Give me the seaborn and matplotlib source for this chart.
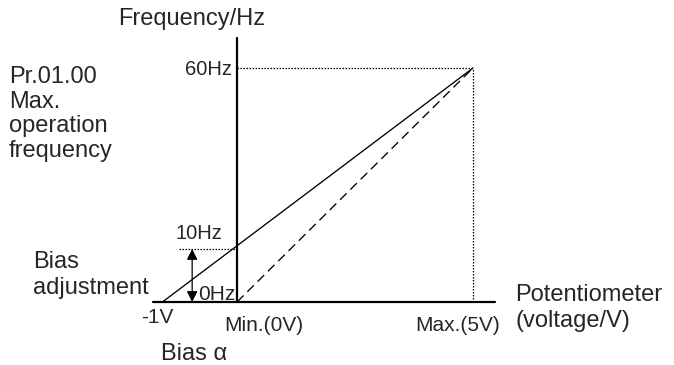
import numpy as np
import pandas as pd
import seaborn as sns
import matplotlib.pyplot as plt

# schematic values (x in volts of the sketch, y in Hz of the sketch)
bias_line_v = [-1.58, 5]      # -1V is drawn at about -1.58 on the sketch
bias_line_f = [0, 60]
plain_line_v = [0, 5]
plain_line_f = [0, 60]
bias_level = 13.6             # the 10Hz level as drawn
max_v = 5
max_f = 60

volt_labels = ['-1V', 'Min.(0V)', 'Max.(5V)']
freq_labels = ['0Hz', '10Hz', '60Hz']

sns.set_theme(style='white')
plt.rcParams['font.family'] = ['Liberation Sans', 'DejaVu Sans']

fig = plt.figure(figsize=(6.74, 3.65), dpi=100)
ax = fig.add_axes([0, 0, 1, 1])
# pixel layout: 0V at x=237px, 5V at 473px; 0Hz at y=302px, 60Hz at 68px
ax.set_xlim(-237 / 47.2, (674 - 237) / 47.2)
ax.set_ylim(-(365 - 302) / 3.9, 302 / 3.9)
ax.axis('off')

big = 17
small = 15


def seg(x, y, **kw):
    # plain segment, no aggregation by seaborn
    sns.lineplot(x=x, y=y, color='black', estimator=None, sort=False,
                 errorbar=None, ax=ax, **kw)


# axes of the sketch
seg([-1.78, 5.47], [0, 0], lw=1.6)
seg([0, 0], [0, 67.7], lw=1.6)

# guide lines
dot = (0, (1.2, 1.2))
seg([0, max_v], [max_f, max_f], lw=0.9, linestyle=dot)
seg([max_v, max_v], [0, max_f], lw=0.9, linestyle=dot)
seg([-1.23, 0], [bias_level, bias_level], lw=0.9, linestyle=dot)

# characteristic lines
seg(bias_line_v, bias_line_f, lw=0.95)
seg(plain_line_v, plain_line_f, lw=0.95, linestyle=(0, (7, 4)))

# bias arrow
ax.annotate('', xy=(-0.95, 0), xytext=(-0.95, bias_level),
            arrowprops=dict(arrowstyle='<|-|>', color='black', lw=0.9,
                            mutation_scale=16, shrinkA=0, shrinkB=0))

# tick labels
ax.text(-0.1, max_f - 0.5, freq_labels[2], fontsize=14.5, ha='right', va='center')
ax.text(-0.32, bias_level + 3.85, freq_labels[1], fontsize=14.5, ha='right', va='center')
ax.text(-0.83, 1.8, freq_labels[0], fontsize=small, ha='left', va='center')
ax.text(-1.68, -4, volt_labels[0], fontsize=small, ha='center', va='center')
ax.text(-0.275, -6, volt_labels[1], fontsize=small, ha='left', va='center')
ax.text(5.57, -6, volt_labels[2], fontsize=small, ha='right', va='center')

# titles
ax.text(-2.52, 72.6, 'Frequency/Hz', fontsize=big, ha='left', va='center')
ax.text(-4.83, 48.2, 'Pr.01.00\nMax.\noperation\nfrequency', fontsize=big,
        ha='left', va='center', linespacing=1.17)
ax.text(-4.32, 6.95, 'Bias\nadjustment', fontsize=big, ha='left', va='center',
        linespacing=1.25)
ax.text(5.9, -1.5, 'Potentiometer\n(voltage/V)', fontsize=big, ha='left', va='center',
        linespacing=1.25)
ax.text(-1.61, -13.3, 'Bias α', fontsize=big, ha='left', va='center')

fig.savefig('out.png', dpi=100)
